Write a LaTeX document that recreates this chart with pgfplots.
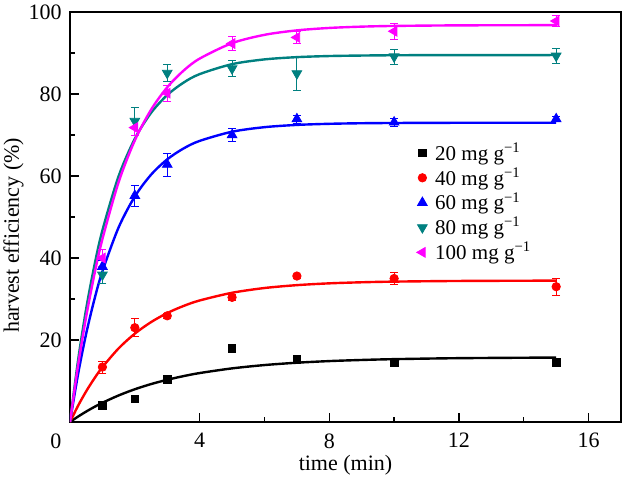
\documentclass[border=0pt]{standalone}
\usepackage{fontspec}
\setmainfont{Liberation Serif}
\usepackage{pgfplots}
\pgfplotsset{compat=1.18}
\definecolor{cteal}{RGB}{0,128,128}
\definecolor{cmag}{RGB}{255,0,255}
\definecolor{cred}{RGB}{255,0,0}
\definecolor{cblue}{RGB}{0,0,255}
\begin{document}
\begin{tikzpicture}
\begin{axis}[
  scale only axis, width=275.5pt, height=205pt,
  xmin=0, xmax=17, ymin=0, ymax=100,
  xtick={4,8,12,16}, xticklabels={4,8,12,16},
  ytick={20,40,60,80,100}, yticklabels={20,40,60,80,100},
  minor x tick num=1, minor y tick num=1,
  tick pos=left, tick align=inside,
  major tick length=4.5pt, minor tick length=2.5pt,
  axis line style={line width=0.7pt},
  every tick/.style={line width=0.7pt, black},
  tick label style={font=\fontsize{11}{13}\selectfont, inner sep=1pt},
  yticklabel style={xshift=-3pt},
  xticklabel style={yshift=-4.5pt},
  extra x ticks={0}, extra x tick labels={0},
  extra x tick style={major tick length=0pt, xticklabel style={xshift=-7pt}},
  label style={font=\fontsize{11}{13}\selectfont, inner sep=0pt},
  xlabel={time (min)}, ylabel={harvest efficiency (\%)},
  xlabel style={at={([yshift=-21.5pt]rel axis cs:0.5,0)}, anchor=center},
  ylabel style={at={([xshift=-28.25pt]rel axis cs:0,0.455)}, anchor=center},
  legend cell align=left,
  legend style={draw=none, fill=none, at={(0.625,0.697)}, anchor=north west,
    font=\fontsize{10.5}{12}\selectfont, row sep=-1.9pt, inner sep=1pt,
    /tikz/every odd column/.append style={column sep=2pt}},
  error bars/error bar style={line width=0.4pt},
  error bars/error mark options={rotate=90, mark size=2pt, line width=0.4pt},
]
% fitted curves
\addplot[black, line width=1.2pt, smooth, forget plot] coordinates {
(0,0) (0.25,1.33) (0.5,2.55) (0.75,3.67) (1,4.69) (1.5,6.48) (2,7.99) (2.5,9.25) (3,10.30) (3.5,11.19) (4,11.94) (5,13.08) (6,13.89) (7,14.46) (8,14.86) (9,15.13) (10,15.33) (12,15.57) (15,15.72)};
\addplot[cred, line width=1.2pt, smooth, forget plot] coordinates {
(0,0) (0.25,3.98) (0.5,7.50) (0.75,10.61) (1,13.37) (1.5,17.96) (2,21.55) (2.5,24.36) (3,26.57) (3.5,28.29) (4,29.64) (5,31.52) (6,32.68) (7,33.38) (8,33.82) (9,34.08) (10,34.24) (12,34.40) (15,34.48)};
\addplot[cblue, line width=1.2pt, smooth, forget plot] coordinates {
(0,0) (0.25,11.72) (0.5,21.56) (0.75,29.81) (1,36.75) (1.5,47.46) (2,55.00) (2.5,60.31) (3,64.06) (3.5,66.70) (4,68.56) (5,70.80) (6,71.91) (7,72.46) (8,72.73) (9,72.87) (10,72.93) (12,72.98) (15,73.0)};
\addplot[cteal, line width=1.2pt, smooth, forget plot] coordinates {
(0,0) (0.25,15.10) (0.5,27.65) (0.75,38.07) (1,46.75) (1.5,59.96) (2,69.09) (2.5,75.39) (3,79.75) (3.5,82.76) (4,84.85) (5,87.28) (6,88.44) (7,88.99) (8,89.26) (9,89.38) (10,89.45) (12,89.49) (15,89.5)};
\addplot[cmag, line width=1.2pt, smooth, forget plot] coordinates {
(0,0) (0.25,13.86) (0.5,25.73) (0.75,35.90) (1,44.62) (1.5,58.50) (2,68.68) (2.5,76.15) (3,81.64) (3.5,85.67) (4,88.63) (5,92.40) (6,94.43) (7,95.52) (8,96.11) (9,96.43) (10,96.60) (12,96.74) (15,96.79)};
% data
\addplot[only marks, mark=square*, mark size=1.9pt, black,
  error bars/.cd, y dir=both, y explicit] table[x=t, y=q, y error=e] {
t q e
1 4.1 0.3
2 5.6 0.3
3 10.4 0.4
5 18.0 0.8
7 15.3 0.5
10 14.5 0.5
15 14.6 0.6
};
\addlegendentry{20 mg g\textsuperscript{−1}}
\addplot[only marks, mark=*, mark size=2.1pt, cred,
  error bars/.cd, y dir=both, y explicit] table[x=t, y=q, y error=e] {
t q e
1 13.4 1.5
2 23.0 2.2
3 25.9 0.6
5 30.4 0.8
7 35.6 0.5
10 35.0 1.5
15 33.0 2.0
};
\addlegendentry{40 mg g\textsuperscript{−1}}
\addplot[only marks, mark=triangle*, mark size=2.8pt, cblue,
  error bars/.cd, y dir=both, y explicit] table[x=t, y=q, y error=e] {
t q e
1 37.9 1.5
2 55.2 2.6
3 62.8 2.8
5 70.0 1.5
7 73.9 1.0
10 73.1 1.0
15 73.9 0.6
};
\addlegendentry{60 mg g\textsuperscript{−1}}
\addplot[only marks, mark=triangle*, mark options={rotate=180}, mark size=2.8pt, cteal,
  error bars/.cd, y dir=both, y explicit] table[x=t, y=q, y error=e] {
t q e
1 35.9 2.0
2 73.4 3.4
3 85.1 2.0
5 86.2 2.0
7 85.0 4.2
10 89.1 1.8
15 89.3 1.8
};
\addlegendentry{80 mg g\textsuperscript{−1}}
\addplot[only marks, mark=triangle*, mark options={rotate=90}, mark size=2.8pt, cmag,
  error bars/.cd, y dir=both, y explicit] table[x=t, y=q, y error=e] {
t q e
1 40.0 2.0
2 71.8 2.0
3 80.2 2.0
5 92.3 1.7
7 93.8 1.5
10 95.3 1.9
15 97.8 1.4
};
\addlegendentry{100 mg g\textsuperscript{−1}}
\end{axis}
\path (current axis.south west) ++(-35pt,-27.5pt);
\path (current axis.north east) ++(1.5pt,6pt);
\end{tikzpicture}
\end{document}
